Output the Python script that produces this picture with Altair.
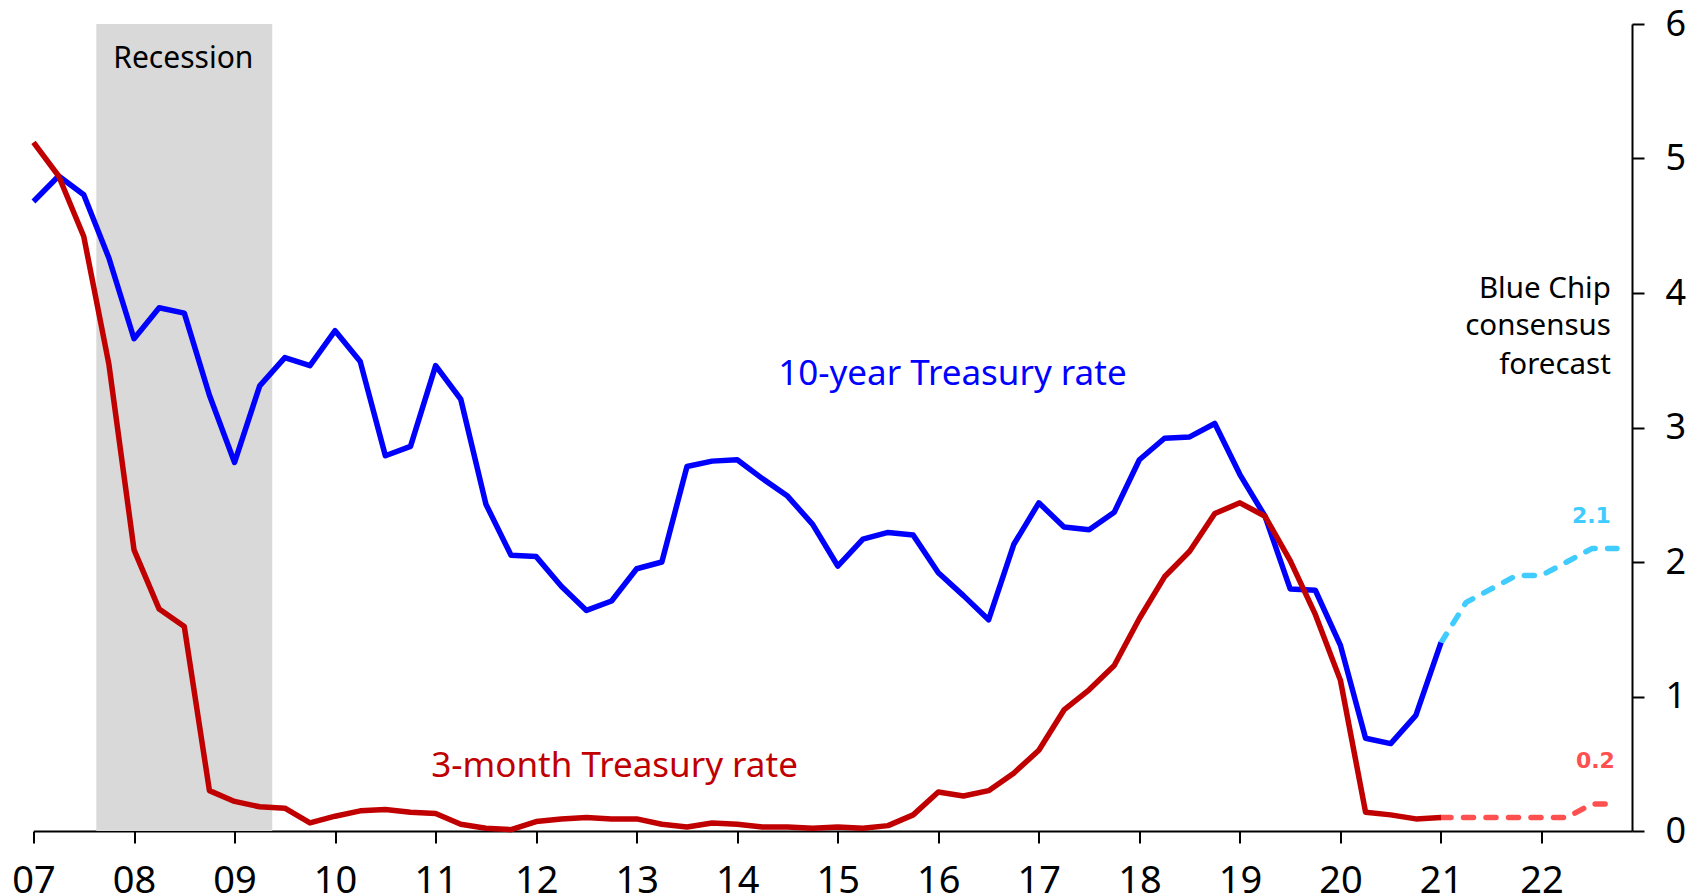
import altair as alt
import pandas as pd

FONT = "Noto Sans"

# quarterly observations 2007Q1 .. 2021Q1
quarters = [f"{y}Q{q}" for y in range(2007, 2021) for q in (1, 2, 3, 4)] + ["2021Q1"]
ten_year = [4.68, 4.87, 4.73, 4.26, 3.66, 3.89, 3.85, 3.24, 2.74, 3.31, 3.52, 3.46,
            3.72, 3.49, 2.79, 2.86, 3.46, 3.21, 2.43, 2.05, 2.04, 1.82, 1.64, 1.71,
            1.95, 2.00, 2.71, 2.75, 2.76, 2.62, 2.49, 2.28, 1.97, 2.17, 2.22, 2.20,
            1.92, 1.75, 1.57, 2.13, 2.44, 2.26, 2.24, 2.37, 2.76, 2.92, 2.93, 3.03,
            2.65, 2.34, 1.80, 1.79, 1.38, 0.69, 0.65, 0.86, 1.40]
three_month = [5.12, 4.87, 4.42, 3.47, 2.09, 1.65, 1.52, 0.30, 0.22, 0.18, 0.17, 0.06,
               0.11, 0.15, 0.16, 0.14, 0.13, 0.05, 0.02, 0.01, 0.07, 0.09, 0.10, 0.09,
               0.09, 0.05, 0.03, 0.06, 0.05, 0.03, 0.03, 0.02, 0.03, 0.02, 0.04, 0.12,
               0.29, 0.26, 0.30, 0.43, 0.60, 0.90, 1.05, 1.23, 1.58, 1.89, 2.08, 2.36,
               2.44, 2.34, 2.01, 1.61, 1.12, 0.14, 0.12, 0.09, 0.10]

# Blue Chip consensus forecast 2021Q1 .. 2022Q4
fc_quarters = ["2021Q1", "2021Q2", "2021Q3", "2021Q4", "2022Q1", "2022Q2", "2022Q3", "2022Q4"]
ten_year_fc = [1.40, 1.70, 1.80, 1.90, 1.90, 2.00, 2.10, 2.10]
three_month_fc = [0.10, 0.10, 0.10, 0.10, 0.10, 0.10, 0.20, 0.20]

recession_start = 2007.625
recession_end = 2009.375

x_ticks = list(range(2007, 2023))
y_ticks = [0, 1, 2, 3, 4, 5, 6]


def qtime(label):
    return int(label[:4]) + (int(label[5]) - 1) / 4


hist = pd.DataFrame({"t": [qtime(q) for q in quarters], "ten": ten_year, "three": three_month})
fc = pd.DataFrame({"t": [qtime(q) for q in fc_quarters], "ten": ten_year_fc, "three": three_month_fc})
rec = pd.DataFrame({"a": [recession_start], "b": [recession_end], "lo": [0], "hi": [6]})

labels = pd.DataFrame({
    "t": [2016.14, 2012.78],
    "v": [3.316, 0.40],
    "txt": ["10-year Treasury rate", "3-month Treasury rate"],
    "col": ["#0000ff", "#c00000"],
})
bc = pd.DataFrame({"t": [2022.69] * 3, "v": [3.96, 3.685, 3.40],
                   "txt": ["Blue Chip", "consensus", "forecast"]})
endlab = pd.DataFrame({"t": [2022.69, 2022.73], "v": [2.29, 0.468],
                       "txt": ["2.1", "0.2"], "col": ["#40ccff", "#ff5050"]})
reclab = pd.DataFrame({"t": [2008.49], "v": [5.673], "txt": ["Recession"]})

xs = alt.Scale(domain=[2007, 2022.9], nice=False, zero=False)
ys = alt.Scale(domain=[0, 6], nice=False, zero=True)
x_axis = alt.Axis(values=x_ticks, labelExpr="substring(toString(datum.value), 2)", title=None,
                  grid=False, domainColor="black", domainWidth=2, tickColor="black", tickWidth=2,
                  tickSize=12, labelFont=FONT, labelFontSize=38, labelColor="black",
                  labelPadding=19, labelFlush=False, labelOverlap=False)
y_axis = alt.Axis(values=y_ticks, format="d", orient="right", title=None, grid=False,
                  domainColor="black", domainWidth=2, tickColor="black", tickWidth=2, tickSize=12,
                  labelFont=FONT, labelFontSize=36, labelColor="black", labelPadding=21,
                  labelFlush=False)

band = alt.Chart(rec).mark_rect(color="#d9d9d9").encode(
    x=alt.X("a:Q", scale=xs, axis=x_axis), x2="b:Q",
    y=alt.Y("lo:Q", scale=ys, axis=y_axis), y2="hi:Q")


def line(df, field, color, dash=None):
    kw = dict(color=color, strokeWidth=5.5, strokeJoin="round")
    if dash:
        kw.update(strokeDash=dash, strokeCap="round")
    return alt.Chart(df).mark_line(**kw).encode(
        x=alt.X("t:Q", scale=xs, axis=x_axis), y=alt.Y(f"{field}:Q", scale=ys, axis=y_axis))


l_fc_ten = line(fc, "ten", "#40ccff", [10, 12.5])
l_fc_three = line(fc, "three", "#ff5050", [10, 12.5])
l_ten = line(hist, "ten", "#0000ff")
l_three = line(hist, "three", "#c00000")

t_series = alt.Chart(labels).mark_text(font=FONT, fontSize=35, align="center", baseline="alphabetic").encode(
    x=alt.X("t:Q", scale=xs), y=alt.Y("v:Q", scale=ys), text="txt:N",
    color=alt.Color("col:N", scale=None))
t_bc = alt.Chart(bc).mark_text(font=FONT, fontSize=29.5, align="right", baseline="alphabetic",
                               color="black").encode(
    x=alt.X("t:Q", scale=xs), y=alt.Y("v:Q", scale=ys), text="txt:N")
t_end = alt.Chart(endlab).mark_text(font="DejaVu Sans", fontWeight="bold", fontSize=22, align="right",
                                    baseline="alphabetic").encode(
    x=alt.X("t:Q", scale=xs), y=alt.Y("v:Q", scale=ys), text="txt:N",
    color=alt.Color("col:N", scale=None))
t_rec = alt.Chart(reclab).mark_text(font=FONT, fontSize=30, align="center", baseline="alphabetic",
                                    color="black").encode(
    x=alt.X("t:Q", scale=xs), y=alt.Y("v:Q", scale=ys), text="txt:N")

chart = alt.layer(band, l_fc_ten, l_fc_three, l_ten, l_three, t_series, t_bc, t_end, t_rec).properties(
    width=1598.5, height=807,
    background="white",
    autosize=alt.AutoSizeParams(type="none"),
    padding={"left": 25.5, "top": 16, "right": 55, "bottom": 64},
).configure_view(strokeWidth=0, stroke="transparent")

chart.save("out.html", embed_options={"renderer": "svg", "actions": False})
